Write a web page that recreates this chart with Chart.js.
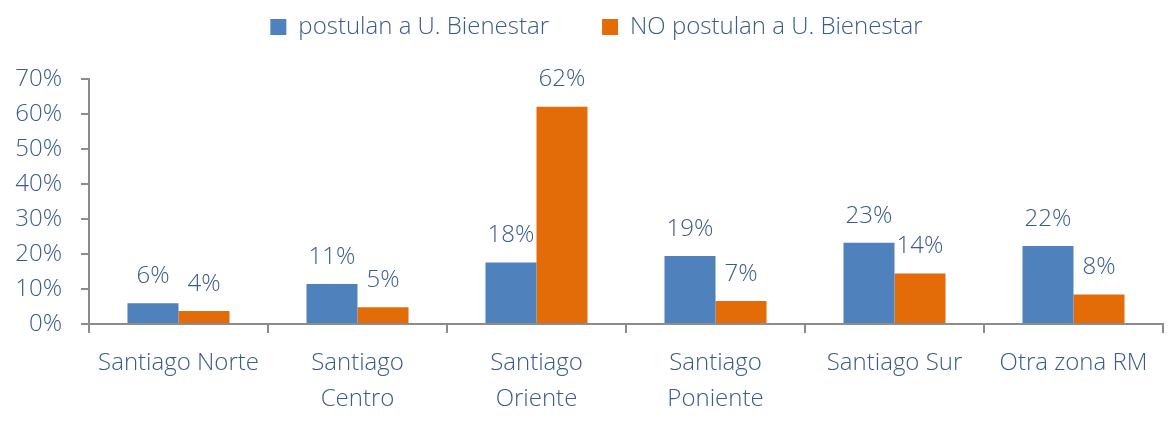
<!DOCTYPE html>
<html>
<head>
<meta charset="utf-8">
<script src="https://cdn.jsdelivr.net/npm/chart.js@4"></script>
<style>
  html, body { margin: 0; padding: 0; background: #fff; }
  #wrap { width: 1172px; height: 424px; }
</style>
</head>
<body>
<div id="wrap"><canvas id="chart" width="1172" height="424"></canvas></div>
<script>
const categories = [
	"Santiago Norte",
	["Santiago", "Centro"],
	["Santiago", "Oriente"],
	["Santiago", "Poniente"],
	"Santiago Sur",
	"Otra zona RM",
];
const postulan = [5.9, 11.4, 17.6, 19.4, 23.2, 22.3];
const noPostulan = [3.7, 4.8, 62.1, 6.6, 14.4, 8.4];
const seriesNames = ["postulan a U. Bienestar", "NO postulan a U. Bienestar"];

const textColor = "#3A5B8C";
const axisColor = "#8C8C8C";
const fontFamily = "'Open Sans', 'Noto Sans', sans-serif";

// percent labels above each bar
const valueLabels = {
	id: "valueLabels",
	afterDatasetsDraw(chart) {
		const ctx = chart.ctx;
		ctx.save();
		ctx.font = "300 24px " + fontFamily;
		ctx.fillStyle = textColor;
		ctx.textAlign = "center";
		ctx.textBaseline = "middle";
		chart.data.datasets.forEach((ds, i) => {
			chart.getDatasetMeta(i).data.forEach((bar, j) => {
				ctx.fillText(Math.round(ds.data[j]) + "%", bar.x, bar.y - 27);
			});
		});
		ctx.restore();
	},
};

// legend: fixed block height, items nudged up (padding also sets item spacing)
const legendTweak = {
	id: "legendTweak",
	beforeLayout(chart) {
		const lg = chart.legend;
		if (lg && !lg._patched) {
			const fit = lg.fit.bind(lg);
			const draw = lg.draw.bind(lg);
			lg.fit = function () {
				fit();
				this.height = 79;
			};
			lg.draw = function () {
				const ctx = chart.ctx;
				ctx.save();
				ctx.translate(15, -38);
				draw();
				ctx.restore();
			};
			lg._patched = true;
		}
	},
};

new Chart(document.getElementById("chart").getContext("2d"), {
	type: "bar",
	data: {
		labels: categories,
		datasets: [
			{ label: seriesNames[0], data: postulan, backgroundColor: "#4F81BD", borderWidth: 0 },
			{ label: seriesNames[1], data: noPostulan, backgroundColor: "#E36C09", borderWidth: 0 },
		],
	},
	options: {
		responsive: false,
		maintainAspectRatio: false,
		animation: false,
		layout: { padding: { top: 0, right: 9, left: 0, bottom: 0 } },
		datasets: { bar: { categoryPercentage: 0.57, barPercentage: 1 } },
		plugins: {
			legend: {
				position: "top",
				labels: {
					color: textColor,
					font: { family: fontFamily, size: 24, weight: 300 },
					boxWidth: 16,
					boxHeight: 16,
					padding: 53,
				},
			},
			tooltip: { enabled: false },
		},
		scales: {
			x: {
				grid: { offset: true, drawOnChartArea: false, drawTicks: true, tickLength: 9, color: axisColor, lineWidth: 2 },
				border: { color: axisColor, width: 2 },
				ticks: { color: textColor, font: { family: fontFamily, size: 24, weight: 300, lineHeight: 1.5 }, maxRotation: 0, padding: 12 },
				afterFit(scale) { scale.height = 100; },
			},
			y: {
				min: 0,
				max: 70,
				grid: { drawOnChartArea: false, drawTicks: true, tickLength: 8, color: axisColor, lineWidth: 2 },
				border: { color: axisColor, width: 2 },
				ticks: {
					stepSize: 10,
					color: textColor,
					font: { family: fontFamily, size: 24, weight: 300 },
					padding: 19,
					callback: (v) => v + "%",
				},
				afterFit(scale) { scale.width = 89; },
			},
		},
	},
	plugins: [valueLabels, legendTweak],
});
</script>
</body>
</html>
